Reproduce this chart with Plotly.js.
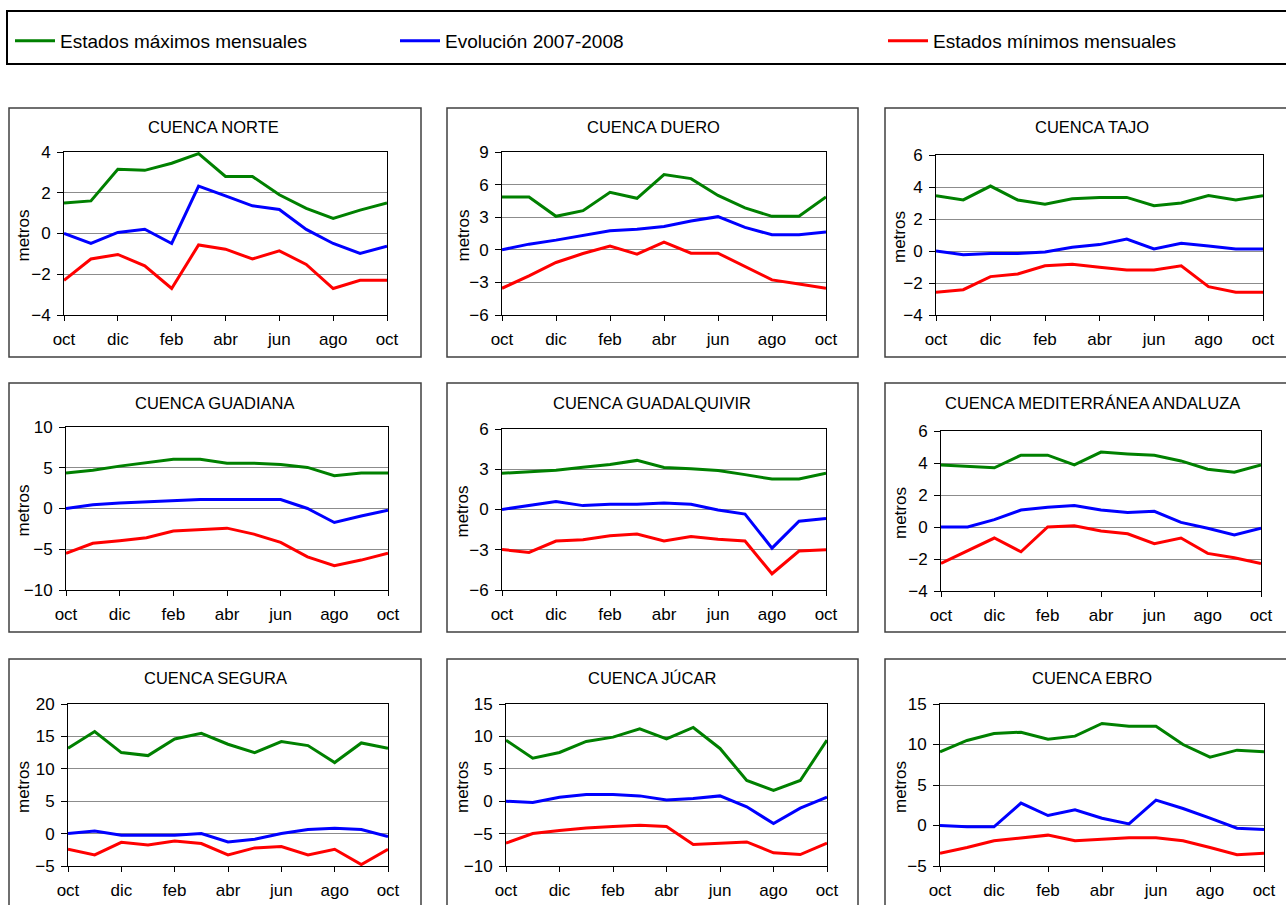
<!DOCTYPE html>
<html>
<head>
<meta charset="utf-8">
<script src="https://cdn.plot.ly/plotly-3.0.1.min.js"></script>
<style>html,body{margin:0;padding:0;background:#fff;}#chart{width:1286px;height:905px;}</style>
</head>
<body>
<div id="chart"></div>
<script>
// ---- data ----
const meses = ['oct','nov','dic','ene','feb','mar','abr','may','jun','jul','ago','sep','oct'];
const seriesNames = ['Estados máximos mensuales','Evolución 2007-2008','Estados mínimos mensuales'];
const cuencas = ['CUENCA NORTE','CUENCA DUERO','CUENCA TAJO','CUENCA GUADIANA','CUENCA GUADALQUIVIR','CUENCA MEDITERRÁNEA ANDALUZA','CUENCA SEGURA','CUENCA JÚCAR','CUENCA EBRO'];
const yTitle = 'metros';

const norteMax  = [1.5,1.6,3.15,3.1,3.45,3.92,2.8,2.8,1.9,1.23,0.74,1.15,1.5];
const norteEvol = [0,-0.49,0.05,0.21,-0.49,2.33,1.85,1.36,1.18,0.2,-0.49,-0.98,-0.62];
const norteMin  = [-2.3,-1.25,-1.03,-1.59,-2.7,-0.56,-0.77,-1.25,-0.85,-1.52,-2.7,-2.3,-2.3];

const dueroMax  = [4.86,4.86,3.08,3.6,5.29,4.74,6.92,6.55,5.0,3.85,3.08,3.08,4.86];
const dueroEvol = [0,0.52,0.89,1.29,1.75,1.9,2.15,2.65,3.05,2.06,1.38,1.38,1.63];
const dueroMin  = [-3.54,-2.4,-1.17,-0.34,0.34,-0.4,0.71,-0.31,-0.31,-1.51,-2.77,-3.14,-3.54];

const tajoMax  = [3.46,3.19,4.06,3.19,2.92,3.27,3.35,3.35,2.83,3.0,3.46,3.19,3.46];
const tajoEvol = [0,-0.23,-0.15,-0.15,-0.06,0.23,0.4,0.75,0.13,0.48,0.31,0.13,0.13];
const tajoMin  = [-2.58,-2.42,-1.6,-1.44,-0.92,-0.83,-1.02,-1.19,-1.19,-0.92,-2.23,-2.58,-2.58];

const guadianaMax  = [4.35,4.7,5.2,5.6,6.05,6.05,5.56,5.56,5.4,5.04,4.03,4.35,4.35];
const guadianaEvol = [0,0.47,0.67,0.83,0.99,1.1,1.1,1.1,1.1,0,-1.72,-0.91,-0.22];
const guadianaMin  = [-5.49,-4.27,-3.95,-3.58,-2.77,-2.61,-2.41,-3.14,-4.15,-5.93,-7.02,-6.33,-5.49];

const guadalquivirMax  = [2.7,2.8,2.93,3.15,3.35,3.66,3.13,3.03,2.9,2.6,2.27,2.27,2.7];
const guadalquivirEvol = [0,0.29,0.59,0.29,0.39,0.39,0.49,0.39,-0.04,-0.34,-2.88,-0.87,-0.67];
const guadalquivirMin  = [-2.98,-3.2,-2.35,-2.25,-1.95,-1.83,-2.35,-2.02,-2.22,-2.35,-4.79,-3.1,-3.0];

const mediterraneaMax  = [3.88,3.8,3.7,4.49,4.49,3.88,4.68,4.57,4.49,4.13,3.61,3.42,3.88];
const mediterraneaEvol = [0,0,0.46,1.06,1.23,1.34,1.06,0.9,0.98,0.29,-0.08,-0.5,-0.08];
const mediterraneaMin  = [-2.28,-1.46,-0.69,-1.55,0,0.08,-0.25,-0.42,-1.04,-0.69,-1.65,-1.92,-2.28];

const seguraMax  = [13.17,15.74,12.5,12.04,14.6,15.48,13.79,12.5,14.2,13.58,10.96,13.99,13.17];
const seguraEvol = [0,0.41,-0.26,-0.26,-0.26,0,-1.3,-0.87,0,0.62,0.82,0.62,-0.46];
const seguraMin  = [-2.42,-3.29,-1.34,-1.75,-1.13,-1.54,-3.29,-2.21,-2.0,-3.29,-2.42,-4.78,-2.42];

const jucarMax  = [9.42,6.64,7.52,9.22,9.89,11.17,9.63,11.38,8.14,3.2,1.65,3.2,9.42];
const jucarEvol = [0,-0.2,0.62,1.03,1.03,0.82,0.2,0.41,0.82,-0.87,-3.45,-1.08,0.62];
const jucarMin  = [-6.48,-4.99,-4.53,-4.12,-3.91,-3.7,-3.91,-6.69,-6.48,-6.28,-7.97,-8.23,-6.48];

const ebroMax  = [9.1,10.5,11.36,11.52,10.66,11.03,12.6,12.26,12.26,10.0,8.44,9.3,9.1];
const ebroEvol = [0,-0.16,-0.16,2.76,1.23,1.93,0.9,0.2,3.13,2.1,0.9,-0.33,-0.49];
const ebroMin  = [-3.42,-2.72,-1.89,-1.52,-1.19,-1.89,-1.69,-1.52,-1.52,-1.89,-2.72,-3.62,-3.42];

const seriesData = [
  [norteMax, norteEvol, norteMin],
  [dueroMax, dueroEvol, dueroMin],
  [tajoMax, tajoEvol, tajoMin],
  [guadianaMax, guadianaEvol, guadianaMin],
  [guadalquivirMax, guadalquivirEvol, guadalquivirMin],
  [mediterraneaMax, mediterraneaEvol, mediterraneaMin],
  [seguraMax, seguraEvol, seguraMin],
  [jucarMax, jucarEvol, jucarMin],
  [ebroMax, ebroEvol, ebroMin]
];
const yRanges = [[-4,4],[-6,9],[-4,6],[-10,10],[-6,6],[-4,6],[-5,20],[-10,15],[-5,15]];
const yDticks = [2,3,2,5,3,2,5,5,5];

// ---- layout geometry (pixels) ----
const W = 1286, H = 905;
const colors = ['#008000','#0000ff','#ff0000'];
const boxes = [
  [9,108,421,357],[447,108,858,357],[885,108,1295,357],
  [9,383,421,632],[447,383,858,632],[885,383,1295,632],
  [9,659,421,915],[447,659,858,915],[885,659,1295,915]
];
const plots = [
  [64,152,387,315],[502,152,826,315],[936,155,1263,315],
  [66,427,388,590],[502,429,826,590],[941,431,1261,591],
  [68,704,388,866],[506,704,827,866],[940,704,1264,866]
];
const titleY = [127,127,127,403,403,403,678,678,678];
const titleX = [213,653,1092,215,652,1092,215,652,1092];
const yTitleX = [23,463,900,23,462,900,23,462,900];

const px = v => v / W;
const py = v => 1 - v / H;
const font = 'Liberation Sans, Arial, sans-serif';

const xIdx = meses.map((m,i)=>i);
const tickVals = xIdx.filter(i => i % 2 === 0);
const tickText = tickVals.map(i => meses[i]);

const traces = [];
const legendBase = {yanchor:'middle', xanchor:'left', orientation:'h', font:{size:19}, bgcolor:'rgba(0,0,0,0)', itemwidth:40};
const layout = {
  width: W, height: H,
  margin: {l:0,r:0,t:0,b:0},
  paper_bgcolor: '#fff', plot_bgcolor: '#fff',
  font: {family: font, size: 17, color: '#000'},
  shapes: [], annotations: [],
  legend:  Object.assign({x: px(10),  y: py(41)}, legendBase),
  legend2: Object.assign({x: px(395), y: py(41)}, legendBase),
  legend3: Object.assign({x: px(883), y: py(41)}, legendBase),
  showlegend: true
};
const legendIds = ['legend','legend2','legend3'];

// legend frame
layout.shapes.push({type:'rect', xref:'paper', yref:'paper', x0:px(7), x1:px(1300), y0:py(11), y1:py(64), line:{color:'#000', width:2}, layer:'below'});

cuencas.forEach((name, k) => {
  const n = k === 0 ? '' : String(k+1);
  const xa = 'xaxis' + n, ya = 'yaxis' + n;
  const p = plots[k], b = boxes[k];
  layout[xa] = {
    domain: [px(p[0]), px(p[2])], anchor: 'y' + n,
    range: [0, 12], tickmode: 'array', tickvals: tickVals, ticktext: tickText,
    ticks: 'outside', ticklen: 5, tickcolor: '#000', tickwidth: 1,
    showline: true, mirror: true, linecolor: '#000', linewidth: 1,
    showgrid: false, zeroline: false, fixedrange: true,
    tickfont: {size: 17}, ticklabelstandoff: 4
  };
  layout[ya] = {
    domain: [py(p[3]), py(p[1])], anchor: 'x' + n,
    range: yRanges[k], dtick: yDticks[k], tick0: 0,
    ticks: 'outside', ticklen: 6, tickcolor: '#000', tickwidth: 1,
    showline: true, mirror: true, linecolor: '#000', linewidth: 1,
    showgrid: true, gridcolor: '#8c8c8c', gridwidth: 1,
    zeroline: false, fixedrange: true,
    tickfont: {size: 17}, ticklabelstandoff: 3
  };
  layout.shapes.push({type:'rect', xref:'paper', yref:'paper', x0:px(b[0]), x1:px(b[2]), y0:py(b[3]), y1:py(b[1]), line:{color:'#404040', width:1.5}, layer:'below'});
  layout.annotations.push({text: name, xref:'paper', yref:'paper', x: px(titleX[k]), y: py(titleY[k]), xanchor:'center', yanchor:'middle', showarrow:false, font:{size:16.5, color:'#000'}});
  layout.annotations.push({text: yTitle, xref:'paper', yref:'paper', x: px(yTitleX[k]), y: py((p[1]+p[3])/2 + 2), xanchor:'center', yanchor:'middle', textangle:-90, showarrow:false, font:{size:17, color:'#000'}});
  seriesData[k].forEach((vals, s) => {
    traces.push({
      type: 'scatter', mode: 'lines', x: xIdx, y: vals,
      xaxis: 'x' + n, yaxis: 'y' + n,
      name: seriesNames[s], line: {color: colors[s], width: 3},
      showlegend: k === 0, legend: legendIds[s], hoverinfo: 'skip'
    });
  });
});

Plotly.newPlot('chart', traces, layout, {displayModeBar: false, staticPlot: true});
</script>
</body>
</html>
